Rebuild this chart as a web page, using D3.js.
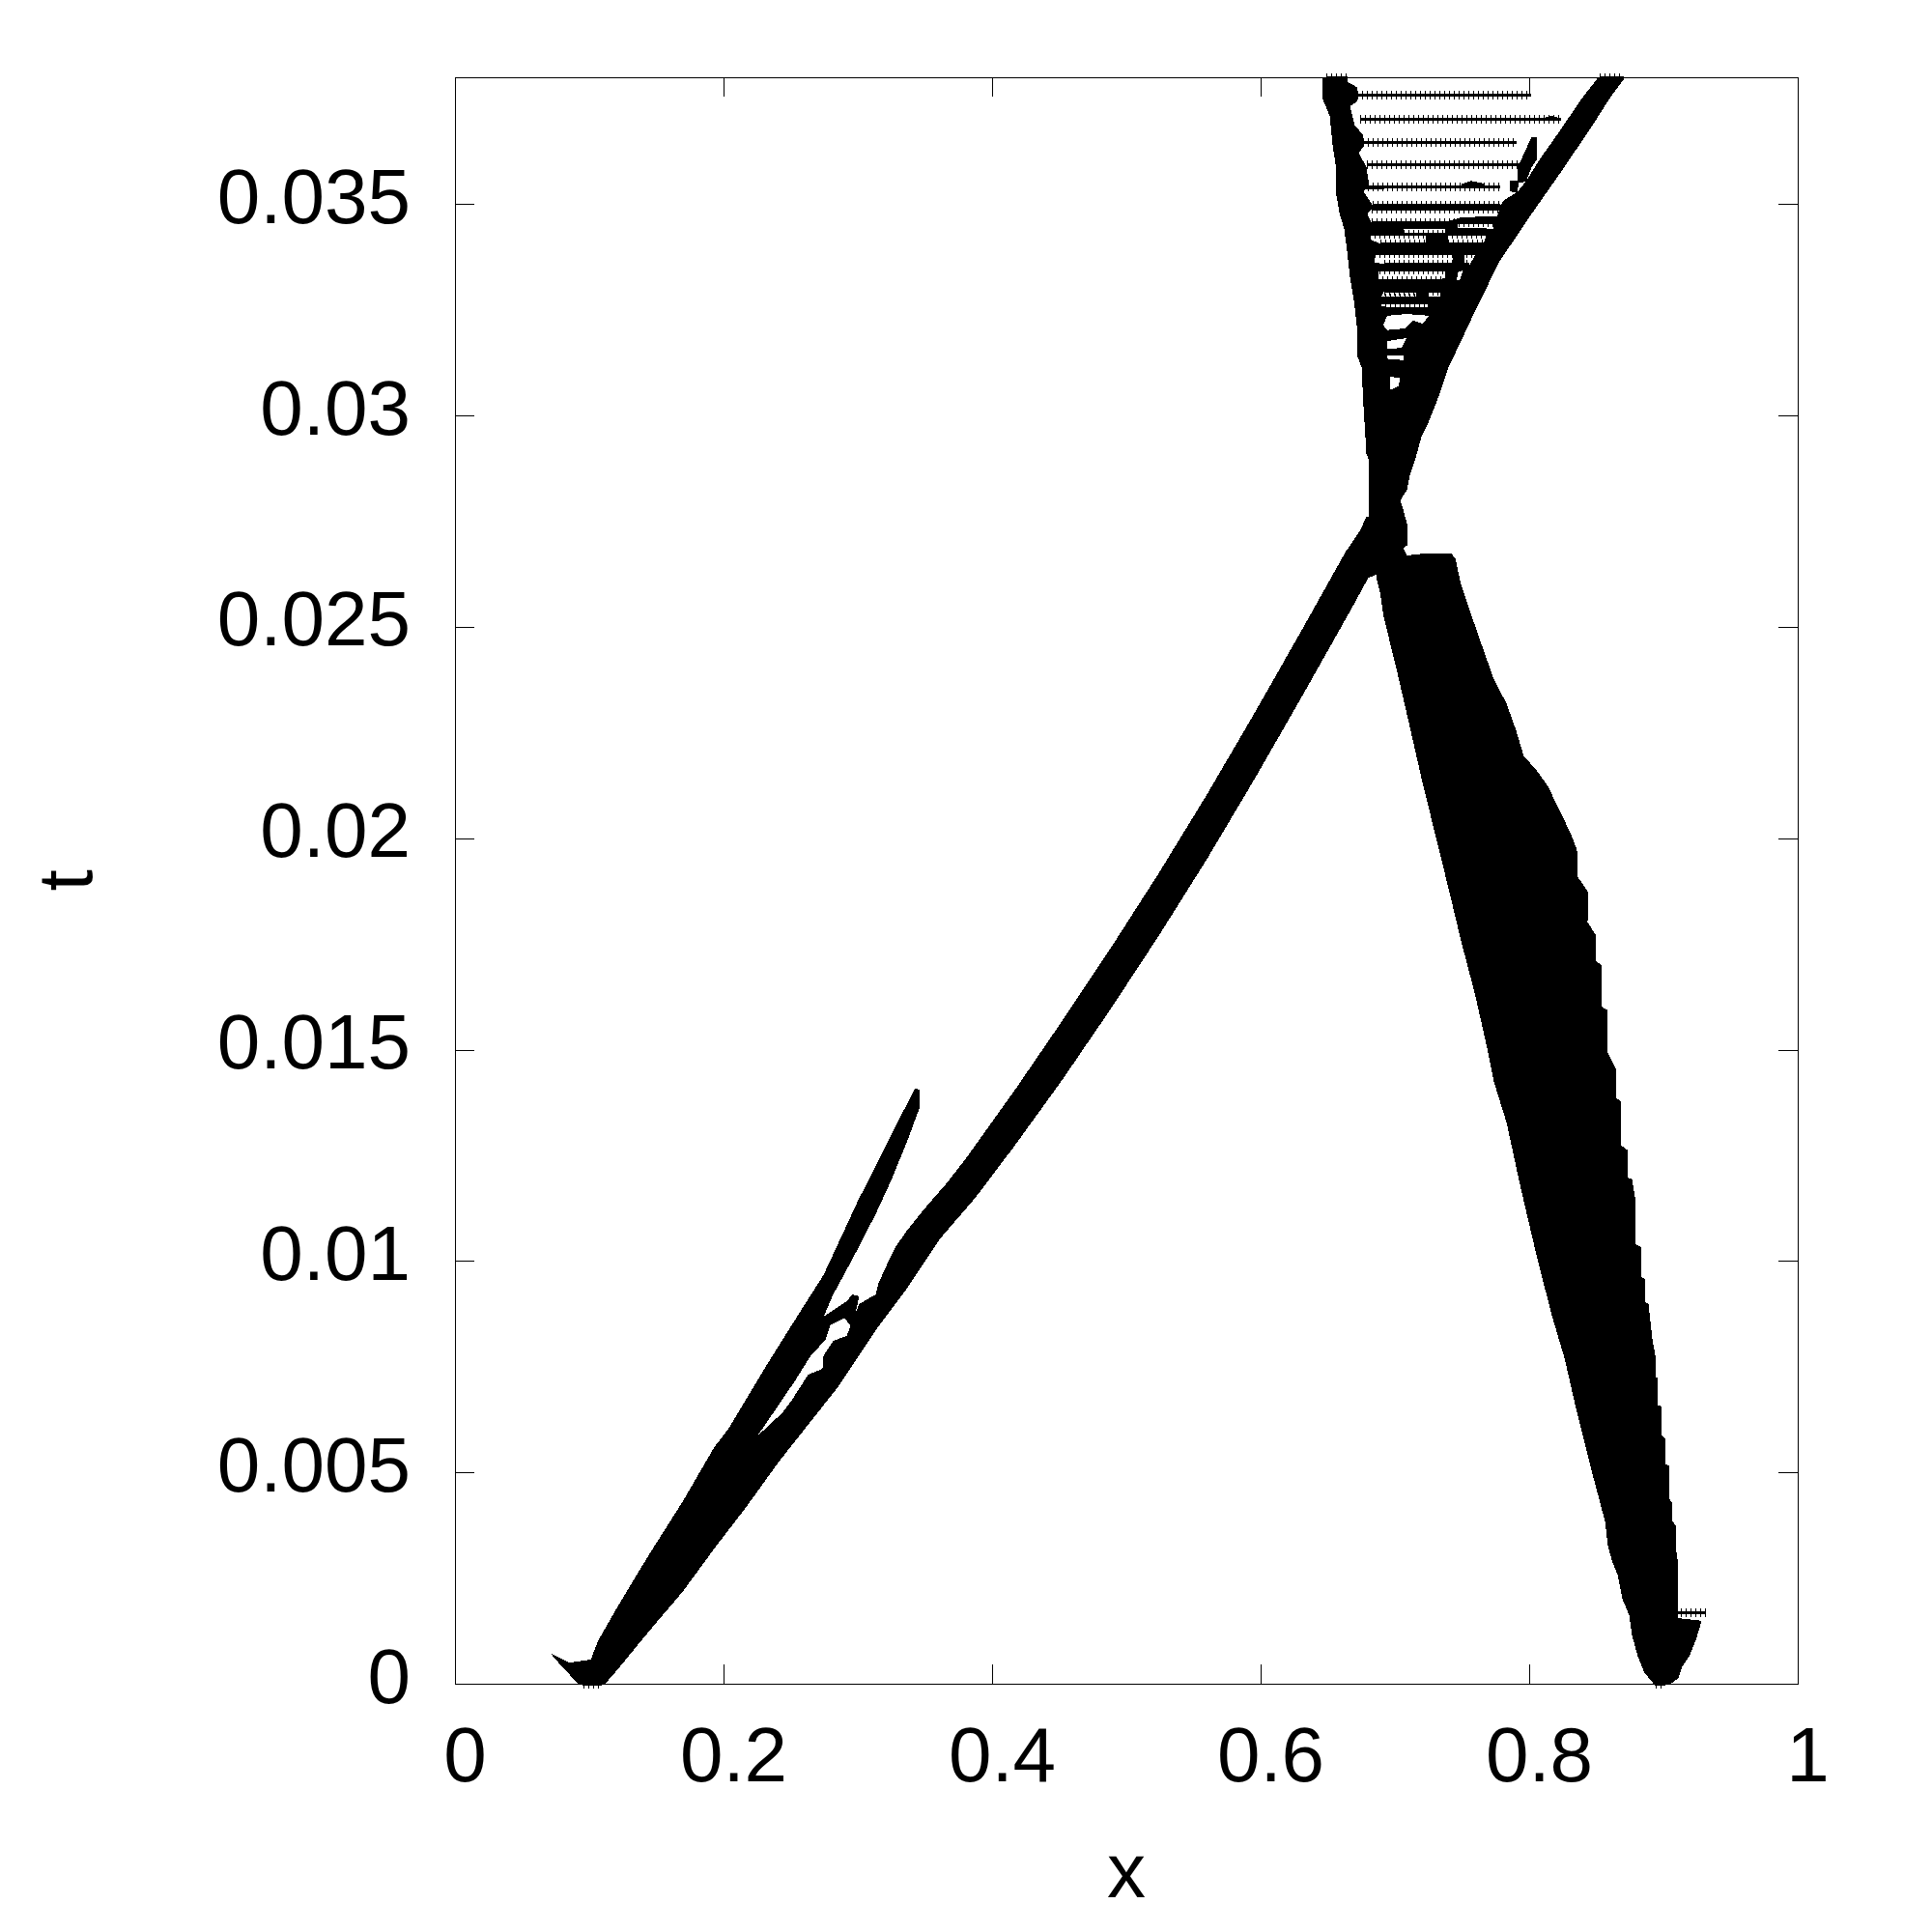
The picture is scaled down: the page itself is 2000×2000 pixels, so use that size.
<!DOCTYPE html>
<html>
<head>
<meta charset="utf-8">
<script src="https://cdn.jsdelivr.net/npm/d3@7"></script>
<style>
body { margin: 0; background: #fff; }
text { font-family: "Liberation Sans", sans-serif; fill: #000; }
.cloud { fill: #000; stroke: none; shape-rendering: crispEdges; }
.row { fill: none; stroke: #000; shape-rendering: crispEdges; }
.axis path, .axis line { stroke: #000; stroke-width: 1; shape-rendering: crispEdges; }
</style>
</head>
<body>
<svg width="2000" height="2000"></svg>
<script>
var xTicks = [0, 0.2, 0.4, 0.6, 0.8, 1],
    xTickLabels = ["0", "0.2", "0.4", "0.6", "0.8", "1"],
    yTicks = [0, 0.005, 0.01, 0.015, 0.02, 0.025, 0.03, 0.035],
    yTickLabels = ["0", "0.005", "0.01", "0.015", "0.02", "0.025", "0.03", "0.035"];

// outlines of the dense point clouds, [x, t]
var lowerBand = [[.0716,.00071],[.0730,.00064],[.0910,.00002],[.0960,-.00005],[.1083,-.00005],[.1119,0],[.1212,.00034],[.1450,.00126],[.1694,.00217],[.1932,.00320],[.2169,.00418],[.2414,.00526],[.2601,.00601],[.2845,.00699],[.3133,.00836],[.3371,.00937],[.3608,.01051],[.3874,.01149],[.4162,.01270],[.4522,.01428],[.4881,.01595],[.5241,.01769],[.5601,.01951],[.5960,.02143],[.6320,.02342],[.6680,.02545],[.6802,.02616],[.6860,.02623],[.6788,.02760],[.6737,.02726],[.6630,.02676],[.6320,.02500],[.5960,.02299],[.5601,.02104],[.5241,.01917],[.4881,.01739],[.4522,.01568],[.4162,.01401],[.3802,.01241],[.3644,.01177],[.3565,.01149],[.3493,.01122],[.3371,.01074],[.3284,.01035],[.3241,.01008],[.3155,.00948],[.3133,.00921],[.3011,.00898],[.2961,.00859],[.2917,.00823],[.2817,.00811],[.2745,.00777],[.2737,.00745],[.2630,.00731],[.2507,.00670],[.2435,.00640],[.2147,.00555],[.1500,.00281],[.1068,.00103],[.1011,.00057],[.0853,.00050]];

var upperArm = [[.1068,.00103],[.1212,.00183],[.1450,.00308],[.1694,.00430],[.1932,.00560],[.2032,.00601],[.2291,.00738],[.2529,.00859],[.2745,.00967],[.3011,.01149],[.3061,.01179],[.3277,.01316],[.3406,.01396],[.3428,.01408],[.3464,.01405],[.3464,.01366],[.3371,.01286],[.3248,.01190],[.3133,.01111],[.2961,.01005],[.2817,.00921],[.2745,.00868],[.2759,.00813],[.2651,.00777],[.2529,.00715],[.2399,.00654],[.1788,.00372]];

var armBlob = [[.2745,.00868],[.2917,.00905],[.2961,.00921],[.3011,.00916],[.2989,.00887],[.2975,.00860],[.2950,.00845],[.2900,.00865],[.2795,.00848],[.2759,.00813]];

var fan = [[.7061,.02687],[.7090,.02669],[.7205,.02673],[.7421,.02673],[.7450,.02662],[.7493,.02600],[.7565,.02532],[.7637,.02466],[.7737,.02376],[.7831,.02319],[.7903,.02255],[.7960,.02194],[.8047,.02164],[.8140,.02123],[.8212,.02075],[.8313,.02009],[.8356,.01972],[.8363,.01908],[.8442,.01871],[.8435,.01801],[.8493,.01773],[.8493,.01711],[.8536,.01700],[.8536,.01602],[.8586,.01593],[.8586,.01492],[.8644,.01456],[.8644,.01387],[.8687,.01376],[.8687,.01273],[.8737,.01261],[.8737,.01197],[.8766,.01193],[.8788,.01152],[.8788,.01040],[.8838,.01033],[.8838,.00962],[.8860,.00957],[.8860,.00903],[.8889,.00898],[.8917,.00816],[.8939,.00777],[.8939,.00727],[.8960,.00722],[.8960,.00658],[.8989,.00656],[.8989,.00587],[.9011,.00580],[.9011,.00521],[.9040,.00516],[.9040,.00439],[.9061,.00430],[.9068,.00384],[.9090,.00375],[.9090,.00327],[.9111,.00281],[.9111,.00185],[.9111,.00155],[.9284,.00149],[.9263,.00126],[.9241,.00103],[.9191,.00064],[.9140,.00041],[.9111,.00014],[.9068,.00002],[.8982,-.00005],[.8939,-.00005],[.8910,.00007],[.8860,.00025],[.8810,.00064],[.8766,.00114],[.8745,.00162],[.8694,.00201],[.8658,.00258],[.8615,.00292],[.8586,.00327],[.8565,.00384],[.8464,.00505],[.8356,.00642],[.8263,.00770],[.8169,.00871],[.8061,.01005],[.7939,.01170],[.7831,.01328],[.7737,.01424],[.7687,.01504],[.7594,.01634],[.7493,.01757],[.7414,.01862],[.7313,.01993],[.7205,.02132],[.7112,.02262],[.7018,.02392],[.6917,.02523],[.6888,.02584],[.6860,.02619],[.6860,.02660],[.7000,.02720]];

var wedge = [[.6464,.03800],[.6464,.03747],[.6514,.03709],[.6536,.03640],[.6558,.03594],[.6558,.03533],[.6586,.03480],[.6622,.03441],[.6644,.03389],[.6665,.03327],[.6694,.03274],[.6716,.03212],[.6716,.03144],[.6752,.03114],[.6766,.03023],[.6788,.02909],[.6809,.02893],[.6809,.02760],[.6788,.02760],[.6737,.02726],[.6809,.02623],[.6860,.02623],[.7061,.02687],[.7090,.02692],[.7090,.02744],[.7061,.02779],[.7040,.02799],[.7090,.02824],[.7112,.02859],[.7147,.02891],[.7198,.02950],[.7241,.02977],[.7291,.03016],[.7327,.03046],[.7399,.03114],[.7493,.03176],[.7594,.03245],[.7687,.03305],[.7781,.03366],[.7881,.03412],[.8025,.03480],[.8241,.03578],[.8457,.03679],[.8608,.03754],[.8716,.03800],[.8515,.03800],[.8385,.03747],[.8241,.03679],[.8068,.03601],[.7989,.03560],[.7917,.03530],[.7817,.03510],[.7781,.03496],[.6838,.03496],[.6766,.03530],[.6809,.03544],[.6788,.03587],[.6730,.03622],[.6766,.03635],[.6766,.03663],[.6701,.03686],[.6665,.03731],[.6716,.03742],[.6716,.03777],[.6644,.03789],[.6644,.03800]];

// empty pockets inside the wedge, under the horizontal rows
var wedgeHoles = [
  [[.6795,.03476],[.6824,.03488],[.7327,.03488],[.7783,.03489],[.7759,.03471],[.7495,.03469],[.7375,.03457],[.6824,.03457]],
  [[.7471,.03459],[.7735,.03459],[.7735,.03442],[.7471,.03444]],
  [[.7063,.03442],[.7375,.03442],[.7375,.03433],[.7063,.03433]],
  [[.6812,.03427],[.6871,.03431],[.7063,.03428],[.7231,.03425],[.7231,.03408],[.6895,.03406],[.6824,.03415]],
  [[.7399,.03427],[.7687,.03428],[.7663,.03410],[.7399,.03408]],
  [[.6848,.03383],[.7435,.03381],[.7435,.03360],[.6919,.03358],[.6848,.03362]],
  [[.7519,.03383],[.7603,.03383],[.7555,.03355],[.7519,.03355]],
  [[.6883,.03343],[.7375,.03345],[.7375,.03324],[.6967,.03316],[.6867,.03320]],
  [[.7471,.03339],[.7507,.03343],[.7483,.03320],[.7459,.03320]],
  [[.6919,.03294],[.7159,.03294],[.7159,.03276],[.6895,.03278]],
  [[.7255,.03294],[.7339,.03294],[.7339,.03281],[.7255,.03281]],
  [[.6891,.03267],[.7243,.03267],[.7243,.03252],[.6891,.03258]],
  [[.6943,.03236],[.7087,.03240],[.7255,.03236],[.7207,.03217],[.7135,.03225],[.7075,.03206],[.6943,.03202],[.6912,.03214]],
  [[.6943,.03176],[.7087,.03183],[.7051,.03160],[.6943,.03157]],
  [[.6943,.03141],[.7063,.03141],[.7063,.03131],[.6943,.03134]],
  [[.6963,.03092],[.7039,.03088],[.7027,.03069],[.6967,.03061]]
];

var sideBranch = [[.8018,.03659],[.8059,.03659],[.8059,.03606],[.8018,.03587],[.7975,.03553],[.7919,.03550],[.7915,.03526],[.7859,.03530],[.7859,.03556],[.7915,.03556],[.7915,.03587],[.7963,.03621]];
var rowBumpA = [[.8071,.03701],[.8166,.03709],[.8214,.03705],[.8238,.03697],[.8071,.03697]];
var rowBumpB = [[.7495,.03547],[.7567,.03555],[.7663,.03549],[.7663,.03537],[.7495,.03537]];
var rowBumpC = [[.6764,.03545],[.6919,.03545],[.6919,.03534],[.6764,.03534]];

// rows of separate + points: t, first x, last x
var plusRows = [
  [.03758, .6716, .8011],
  [.03701, .6740, .8238],
  [.03646, .6764, .7903],
  [.03594, .6788, .7927],
  [.03541, .6800, .7783],
  [.03497, .6836, .7783],
  [.03489, .6824, .7783],
  [.03457, .6824, .7759],
  [.03428, .6812, .7687],
  [.03406, .6895, .7663],
  [.03383, .6848, .7603],
  [.03358, .6919, .7555],
  [.03345, .6883, .7375],
  [.03320, .6867, .7375],
  [.03294, .6919, .7339],
  [.03278, .6895, .7159],
  [.03267, .6891, .7243],
  [.03253, .6891, .7243],
  [.00169, .9090, .9313],
  [.03800, .6488, .6644],
  [.03800, .8526, .8706],
  [0, .0960, .1083],
  [0, .8939, .9011]
];

var svg = d3.select("svg"),
    margin = {top: 80, right: 139, bottom: 257, left: 471},
    width = svg.attr("width") - margin.left - margin.right,
    height = svg.attr("height") - margin.top - margin.bottom,
    g = svg.append("g").attr("transform", "translate(" + margin.left + "," + margin.top + ")");

var x = d3.scaleLinear().domain([0, 1]).range([0, width]),
    y = d3.scaleLinear().domain([0, 0.038]).range([height, 0]);

var ring = d3.line()
    .x(function(d) { return x(d[0]); })
    .y(function(d) { return y(d[1]); })
    .curve(d3.curveLinearClosed);

[lowerBand, upperArm, armBlob, fan, sideBranch, rowBumpA, rowBumpB, rowBumpC].forEach(function(r) {
  g.append("path").attr("class", "cloud").attr("d", ring(r));
});

g.append("path")
    .attr("class", "cloud")
    .attr("fill-rule", "evenodd")
    .attr("d", [wedge].concat(wedgeHoles).map(ring).join(" "));

var rowLine = d3.line()
    .x(function(d) { return x(d[0]); })
    .y(function(d) { return y(d[1]); });

var rows = g.selectAll(".rows")
    .data(plusRows)
  .enter().append("g");

// horizontal arms of the + marks merge into a bar, vertical arms stay apart
rows.append("path")
    .attr("class", "row")
    .attr("stroke-width", 3)
    .attr("d", function(d) { return rowLine([[d[1], d[0]], [d[2], d[0]]]); });

rows.append("path")
    .attr("class", "row")
    .attr("stroke-width", 9)
    .attr("stroke-dasharray", "1 4")
    .attr("d", function(d) { return rowLine([[d[1], d[0]], [d[2], d[0]]]); });

// axes, gnuplot style with ticks pointing in on all four sides
var xAxis = g.append("g")
    .attr("class", "axis")
    .attr("transform", "translate(0," + height + ")")
    .call(d3.axisBottom(x).tickValues(xTicks).tickSize(-20).tickSizeOuter(0).tickPadding(44)
      .tickFormat(function(d, i) { return xTickLabels[i]; }));

xAxis.selectAll("text")
    .attr("dx", 10)
    .style("font-size", "80px");

var yAxis = g.append("g")
    .attr("class", "axis")
    .call(d3.axisLeft(y).tickValues(yTicks).tickSize(-20).tickSizeOuter(0).tickPadding(46)
      .tickFormat(function(d, i) { return yTickLabels[i]; }));

yAxis.selectAll("text")
    .attr("dy", 19)
    .style("font-size", "80px");

g.append("g")
    .attr("class", "axis")
    .call(d3.axisTop(x).tickValues(xTicks).tickSize(-20).tickSizeOuter(0).tickFormat(""));

g.append("g")
    .attr("class", "axis")
    .attr("transform", "translate(" + width + ",0)")
    .call(d3.axisRight(y).tickValues(yTicks).tickSize(-20).tickSizeOuter(0).tickFormat(""));

svg.append("text")
    .attr("x", margin.left + width / 2)
    .attr("y", 1964)
    .attr("text-anchor", "middle")
    .style("font-size", "80px")
    .text("x");

svg.append("text")
    .attr("transform", "translate(95," + (margin.top + height / 2) + ") rotate(-90)")
    .attr("text-anchor", "middle")
    .style("font-size", "80px")
    .text("t");
</script>
</body>
</html>
